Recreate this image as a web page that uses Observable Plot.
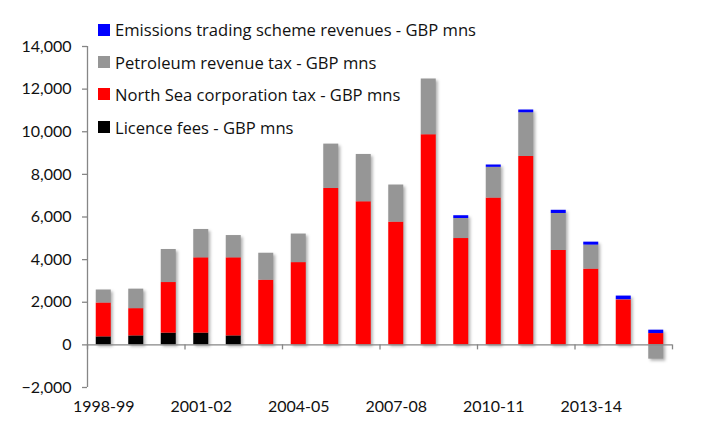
<!DOCTYPE html>
<html>
<head>
<meta charset="utf-8">
<script src="https://cdn.jsdelivr.net/npm/d3@7"></script>
<script src="https://cdn.jsdelivr.net/npm/@observablehq/plot@0.6"></script>
<style>
  html, body { margin: 0; padding: 0; background: #fff; }
  #wrap { position: relative; width: 713px; height: 431px; font-family: Lato, "Open Sans", sans-serif; }
  #legend { position: absolute; left: 98px; top: 0; }
  .row { position: absolute; left: 0; display: flex; align-items: center; white-space: nowrap; font-family: "Open Sans", Lato, sans-serif; font-size: 16.6px; color: #111; }
  .sw { width: 12px; height: 12px; margin-right: 5px; }
  svg g[aria-label="rect"] { filter: drop-shadow(2px 2px 1.5px rgba(0,0,0,0.3)); }
</style>
</head>
<body>
<div id="wrap"><div id="legend"></div></div>
<script>
const years = ["1998-99","1999-00","2000-01","2001-02","2002-03","2003-04","2004-05","2005-06","2006-07","2007-08","2008-09","2009-10","2010-11","2011-12","2012-13","2013-14","2014-15","2015-16"];
const tickLabelYears = ["1998-99","2001-02","2004-05","2007-08","2010-11","2013-14"];
const yTicks = [-2000,0,2000,4000,6000,8000,10000,12000,14000];

const licenceFees = [375,420,550,550,420,0,0,0,0,0,0,0,0,0,0,0,0,0];
const northSeaCT  = [1590,1280,2375,3535,3665,3035,3860,7340,6715,5760,9860,4990,6890,8840,4430,3555,2110,530];
const petroleumRT = [610,915,1550,1330,1045,1265,1340,2080,2220,1740,2615,940,1440,2050,1735,1125,10,-670];
const emissionsTS = [0,0,0,0,0,0,0,0,0,0,0,130,110,130,150,140,170,160];

const seriesNames = [
  "Licence fees - GBP mns",
  "North Sea corporation tax - GBP mns",
  "Petroleum revenue tax - GBP mns",
  "Emissions trading scheme revenues - GBP mns"
];
const seriesColors = ["#000000","#ff0000","#969696","#0000ff"];
const seriesValues = [licenceFees, northSeaCT, petroleumRT, emissionsTS];

const data = [];
years.forEach((yr, i) => {
  seriesValues.forEach((vals, s) => {
    data.push({i, year: yr, series: seriesNames[s], value: vals[i]});
  });
});

const boundaryTicks = d3.range(0, years.length + 1, 3);
const labelData = tickLabelYears.map(l => ({label: l, i: years.indexOf(l) + 0.5}));

const axisColor = "#868686";

const chart = Plot.plot({
  width: 713,
  height: 431,
  marginLeft: 87,
  marginRight: 41,
  marginTop: 46,
  marginBottom: 44,
  style: {fontFamily: "Lato, 'Open Sans', sans-serif", fontSize: "15px", color: "#000", background: "#fff"},
  x: {domain: [0, years.length], axis: null},
  y: {domain: [-2000, 14000], axis: null},
  color: {domain: seriesNames, range: seriesColors},
  marks: [
    Plot.rectY(data, {x: "i", y: "value", interval: 1, fill: "series", insetLeft: 8.75, insetRight: 8.75}),
    Plot.ruleX([0], {stroke: axisColor, strokeWidth: 1.3}),
    Plot.ruleY([0], {stroke: axisColor, strokeWidth: 1.3}),
    Plot.ruleX(boundaryTicks, {y1: 0, y2: 0, insetBottom: -5, stroke: axisColor, strokeWidth: 1.3}),
    Plot.axisY({ticks: yTicks, tickFormat: d => d3.format(",")(d), tickSize: 5, tickPadding: 11, stroke: axisColor, strokeWidth: 1.3, fill: "#111", fontSize: 16, label: null}),
    Plot.text(labelData, {x: "i", frameAnchor: "bottom", dy: 24, text: "label", fontSize: 16, fill: "#111"})
  ]
});
document.getElementById("wrap").prepend(chart);

const legend = document.getElementById("legend");
const legendOrder = [3, 2, 1, 0];
const rowCenters = [29.5, 62, 94, 127];
legendOrder.forEach((s, k) => {
  const row = document.createElement("div");
  row.className = "row";
  row.style.top = (rowCenters[k] - 11) + "px";
  row.style.height = "22px";
  row.innerHTML = `<div class="sw" style="background:${seriesColors[s]}"></div><span>${seriesNames[s]}</span>`;
  legend.appendChild(row);
});
</script>
</body>
</html>
